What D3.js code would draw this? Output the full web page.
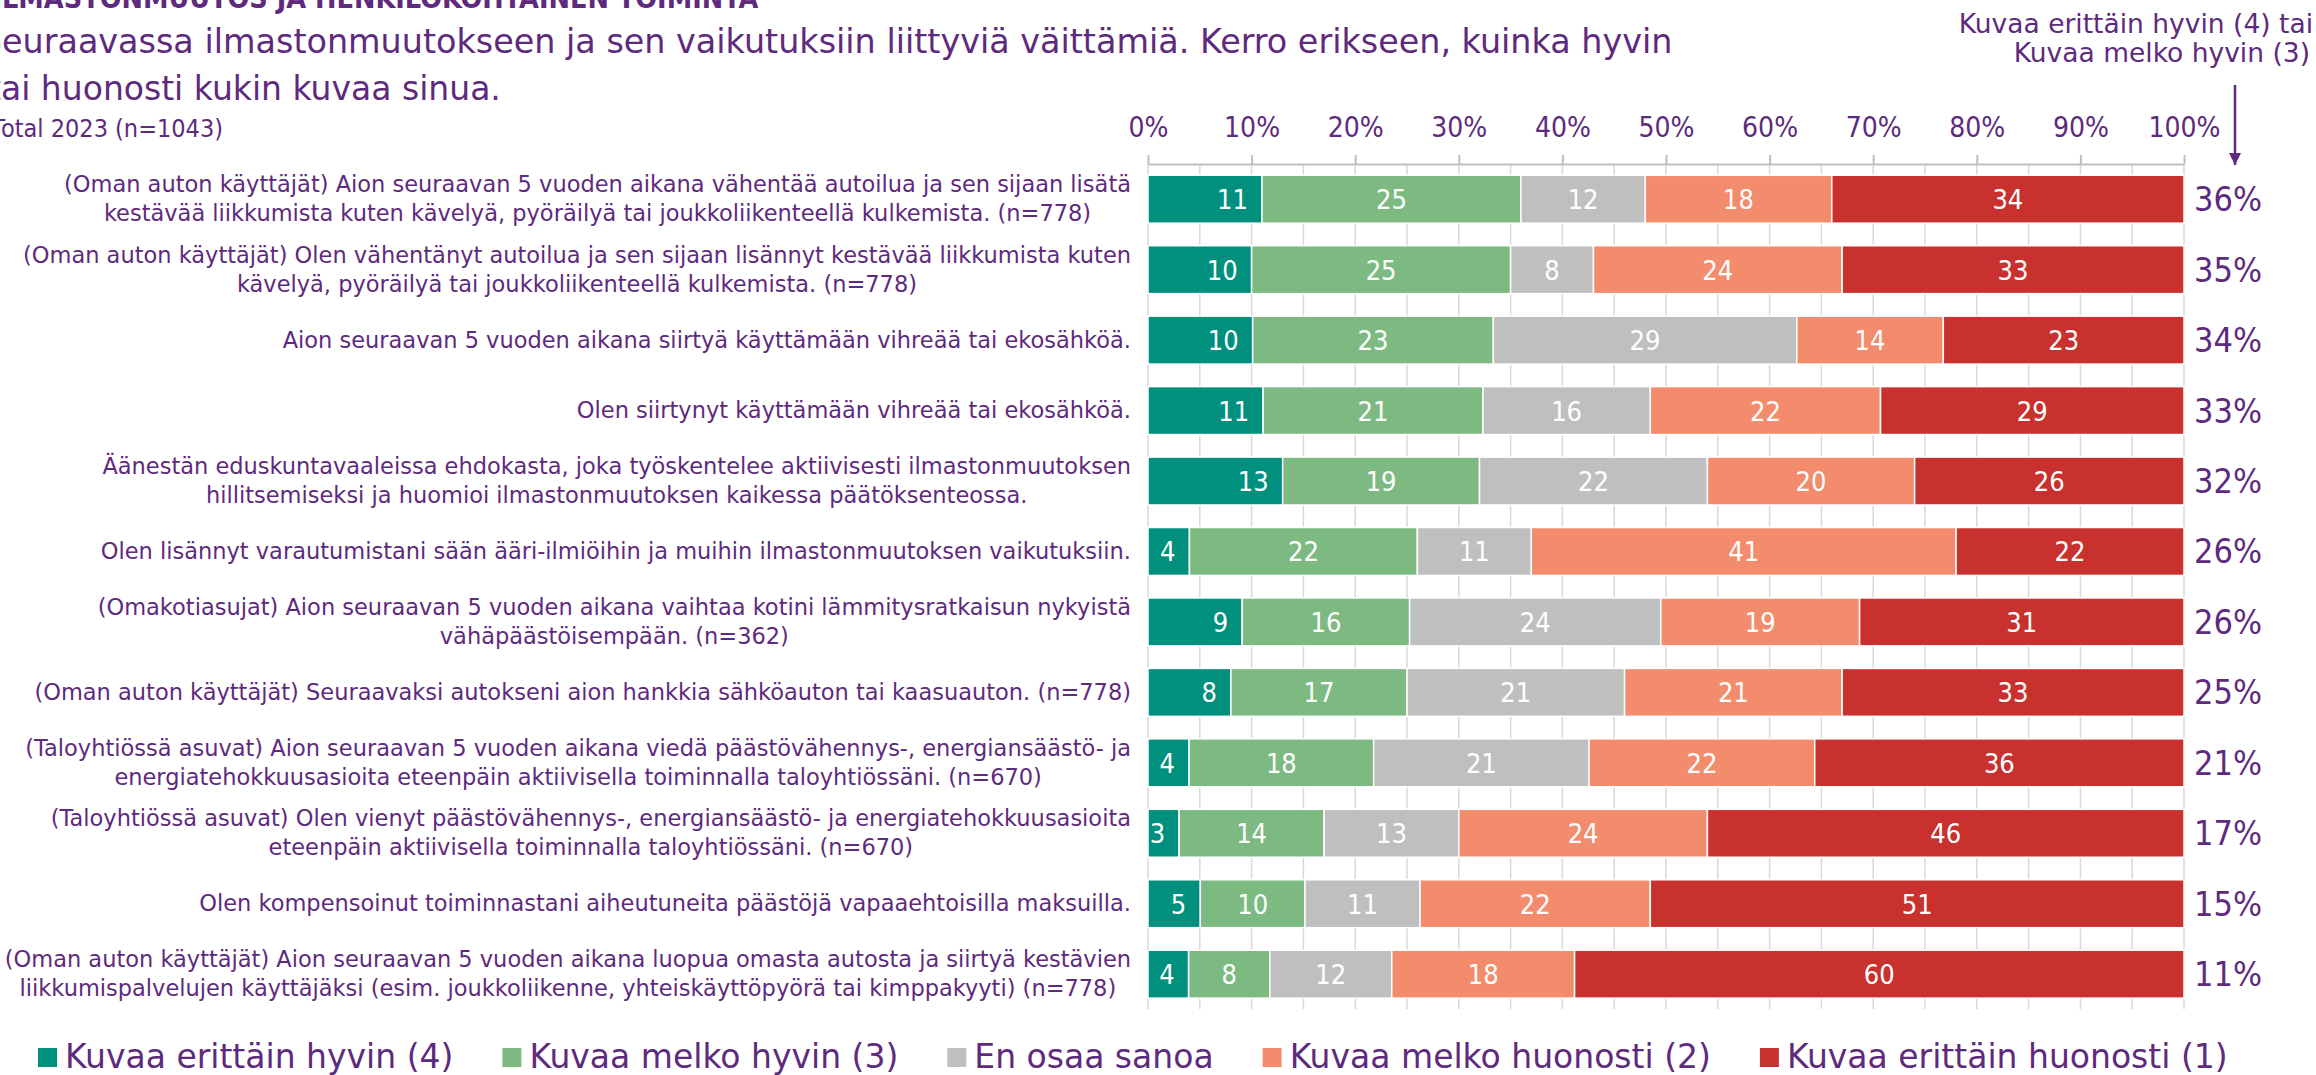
<!DOCTYPE html>
<meta charset="utf-8">
<head lang="fi">
    <title>Ilmastonmuutos ja henkilökohtainen toiminta</title>
    <script type="text/javascript" src="https://d3js.org/d3.v7.min.js"></script>
    <style type="text/css">
        body {
            margin: 0;
            background: #fff;
        }
        svg text {
            font-family: "DejaVu Sans", sans-serif;
            fill: #5e2a7e;
        }
        /* narrower faces for the numbers */
        .cond {
            font-family: "DejaVu Sans Condensed", "DejaVu Sans", sans-serif !important;
            font-stretch: condensed;
        }
        .narrow {
            font-family: "Liberation Sans Narrow", "DejaVu Sans Condensed", sans-serif !important;
            font-stretch: condensed;
        }
        .grid line {
            stroke: #d9d9d9;
            stroke-width: 1.5;
        }
        .axis path, .axis line {
            stroke: #bfbfbf;
            stroke-width: 2;
        }
        .seg {
            stroke: #fff;
            stroke-width: 1.5;
        }
        .val {
            fill: #fff !important;
            font-size: 27px;
        }
    </style>
</head>

<body>
<script type="text/javascript">

    var width = 2316;
    var height = 1075;

    // category labels, one entry per line as in the picture
    var categories = [
        ["(Oman auton käyttäjät) Aion seuraavan 5 vuoden aikana vähentää autoilua ja sen sijaan lisätä",
         "kestävää liikkumista kuten kävelyä, pyöräilyä tai joukkoliikenteellä kulkemista. (n=778)"],
        ["(Oman auton käyttäjät) Olen vähentänyt autoilua ja sen sijaan lisännyt kestävää liikkumista kuten",
         "kävelyä, pyöräilyä tai joukkoliikenteellä kulkemista. (n=778)"],
        ["Aion seuraavan 5 vuoden aikana siirtyä käyttämään vihreää tai ekosähköä."],
        ["Olen siirtynyt käyttämään vihreää tai ekosähköä."],
        ["Äänestän eduskuntavaaleissa ehdokasta, joka työskentelee aktiivisesti ilmastonmuutoksen",
         "hillitsemiseksi ja huomioi ilmastonmuutoksen kaikessa päätöksenteossa."],
        ["Olen lisännyt varautumistani sään ääri-ilmiöihin ja muihin ilmastonmuutoksen vaikutuksiin."],
        ["(Omakotiasujat) Aion seuraavan 5 vuoden aikana vaihtaa kotini lämmitysratkaisun nykyistä",
         "vähäpäästöisempään. (n=362)"],
        ["(Oman auton käyttäjät) Seuraavaksi autokseni aion hankkia sähköauton tai kaasuauton. (n=778)"],
        ["(Taloyhtiössä asuvat) Aion seuraavan 5 vuoden aikana viedä päästövähennys-, energiansäästö- ja",
         "energiatehokkuusasioita eteenpäin aktiivisella toiminnalla taloyhtiössäni. (n=670)"],
        ["(Taloyhtiössä asuvat) Olen vienyt päästövähennys-, energiansäästö- ja energiatehokkuusasioita",
         "eteenpäin aktiivisella toiminnalla taloyhtiössäni. (n=670)"],
        ["Olen kompensoinut toiminnastani aiheutuneita päästöjä vapaaehtoisilla maksuilla."],
        ["(Oman auton käyttäjät) Aion seuraavan 5 vuoden aikana luopua omasta autosta ja siirtyä kestävien",
         "liikkumispalvelujen käyttäjäksi (esim. joukkoliikenne, yhteiskäyttöpyörä tai kimppakyyti) (n=778)"]
    ];

    var series = ["Kuvaa erittäin hyvin (4)", "Kuvaa melko hyvin (3)", "En osaa sanoa",
                  "Kuvaa melko huonosti (2)", "Kuvaa erittäin huonosti (1)"];
    var seriesColors = ["#00907d", "#7dba82", "#bfbfbf", "#f28c6c", "#c8312d"];

    // values (%) per series
    var erittainHyvin    = [11, 10, 10, 11, 13, 4, 9, 8, 4, 3, 5, 4];
    var melkoHyvin       = [25, 25, 23, 21, 19, 22, 16, 17, 18, 14, 10, 8];
    var enOsaaSanoa      = [12, 8, 29, 16, 22, 11, 24, 21, 21, 13, 11, 12];
    var melkoHuonosti    = [18, 24, 14, 22, 20, 41, 19, 21, 22, 24, 22, 18];
    var erittainHuonosti = [34, 33, 23, 29, 26, 22, 31, 33, 36, 46, 51, 60];
    // "Kuvaa erittäin hyvin (4) tai Kuvaa melko hyvin (3)"
    var hyvinYhteensa    = [36, 35, 34, 33, 32, 26, 26, 25, 21, 17, 15, 11];

    var tickValues = [0, 10, 20, 30, 40, 50, 60, 70, 80, 90, 100];
    var gridValues = d3.range(0, 101, 5);

    var cols = [erittainHyvin, melkoHyvin, enOsaaSanoa, melkoHuonosti, erittainHuonosti];
    var table = categories.map(function (c, i) {
        var row = {idx: i};
        series.forEach(function (s, j) { row[s] = cols[j][i]; });
        return row;
    });

    var stacked = d3.stack()
        .keys(series)
        .offset(d3.stackOffsetExpand)(table);

    var svg = d3.select("body")
        .append("svg")
        .attr("width", width)
        .attr("height", height);

    var xScale = d3.scaleLinear()
        .domain([0, 100])
        .range([1148, 2184]);

    var yScale = d3.scaleBand()
        .domain(d3.range(categories.length))
        .range([164, 1009.4])
        .paddingInner(0.32)
        .paddingOuter(0.16);

    var bw = yScale.bandwidth();

    //gridlines every 5%
    svg.append("g")
        .attr("class", "grid")
        .selectAll("line")
        .data(gridValues)
        .enter()
        .append("line")
        .attr("x1", function (d) { return xScale(d); })
        .attr("x2", function (d) { return xScale(d); })
        .attr("y1", 164)
        .attr("y2", 1009);

    //top axis
    var axis = d3.axisTop(xScale)
        .tickValues(tickValues)
        .tickFormat(function (d) { return d + "%"; })
        .tickSize(9)
        .tickSizeOuter(0)
        .tickPadding(18);
    var gx = svg.append("g")
        .attr("class", "axis")
        .attr("transform", "translate(0,164)")
        .call(axis);
    gx.selectAll("text")
        .attr("class", "narrow")
        .style("font-size", "28px")
        .style("fill", "#5e2a7e");

    //bars
    var layers = svg.selectAll(".layer")
        .data(stacked)
        .enter()
        .append("g")
        .attr("class", "layer")
        .style("fill", function (d, i) { return seriesColors[i]; });

    layers.selectAll("rect")
        .data(function (d) { return d; })
        .enter()
        .append("rect")
        .attr("class", "seg")
        .attr("x", function (d) { return xScale(d[0] * 100); })
        .attr("y", function (d) { return yScale(d.data.idx); })
        .attr("width", function (d) { return xScale(d[1] * 100) - xScale(d[0] * 100); })
        .attr("height", bw);

    //value labels (first series sits at the inner end of its segment)
    layers.each(function (layer, li) {
        d3.select(this).selectAll("text")
            .data(layer)
            .enter()
            .append("text")
            .attr("class", "val cond")
            .attr("x", function (d) {
                if (li === 0) {
                    return xScale(d[1] * 100) - 14;
                }
                return (xScale(d[0] * 100) + xScale(d[1] * 100)) / 2;
            })
            .attr("y", function (d) { return yScale(d.data.idx) + bw / 2 + 10; })
            .attr("text-anchor", li === 0 ? "end" : "middle")
            .text(function (d) { return d.data[layer.key]; });
    });

    //category labels: centered lines, widest line flush right
    var labelRight = 1131;
    categories.forEach(function (lines, i) {
        var cy = yScale(i) + bw / 2;
        var g = svg.append("g");
        var texts = lines.map(function (line, k) {
            return g.append("text")
                .attr("y", cy + 7.5 + (k - (lines.length - 1) / 2) * 29)
                .attr("text-anchor", "middle")
                .style("font-size", "22.5px")
                .text(line);
        });
        var maxW = d3.max(texts, function (t) { return t.node().getComputedTextLength(); });
        texts.forEach(function (t) { t.attr("x", labelRight - maxW / 2); });
    });

    //right-hand totals
    svg.selectAll(".tot")
        .data(hyvinYhteensa)
        .enter()
        .append("text")
        .attr("class", "tot narrow")
        .attr("x", 2228)
        .attr("y", function (d, i) { return yScale(i) + bw / 2 + 12; })
        .attr("text-anchor", "middle")
        .style("font-size", "34px")
        .text(function (d) { return d + "%"; });

    //header over totals + arrow
    svg.append("text")
        .attr("x", 2313).attr("y", 33)
        .attr("text-anchor", "end")
        .style("font-size", "26.5px")
        .text("Kuvaa erittäin hyvin (4) tai");
    svg.append("text")
        .attr("x", 2310).attr("y", 62)
        .attr("text-anchor", "end")
        .style("font-size", "26.5px")
        .text("Kuvaa melko hyvin (3)");
    svg.append("defs").append("marker")
        .attr("id", "arrow")
        .attr("viewBox", "0 0 10 10")
        .attr("refX", 10).attr("refY", 5)
        .attr("markerWidth", 5).attr("markerHeight", 5)
        .attr("markerUnits", "strokeWidth")
        .attr("orient", "auto")
        .append("path")
        .attr("d", "M0,0 L10,5 L0,10 z")
        .style("fill", "#5e2a7e");
    svg.append("line")
        .attr("x1", 2235).attr("x2", 2235)
        .attr("y1", 85).attr("y2", 165)
        .style("stroke", "#5e2a7e")
        .style("stroke-width", 2.5)
        .attr("marker-end", "url(#arrow)");

    //titles (the picture is cropped on the left and top edges)
    function leftCut(txt, y, size, weight, visibleX, cls) {
        var t = svg.append("text")
            .attr("y", y)
            .style("font-size", size + "px")
            .style("font-weight", weight)
            .text(txt);
        if (cls) t.attr("class", cls);
        var w = t.node().getSubStringLength(0, 1);
        t.attr("x", visibleX - w);
        return t;
    }
    leftCut("ILMASTONMUUTOS JA HENKILÖKOHTAINEN TOIMINTA", 8, 28.5, "bold", 2, "cond");
    leftCut("Seuraavassa ilmastonmuutokseen ja sen vaikutuksiin liittyviä väittämiä. Kerro erikseen, kuinka hyvin", 53, 33.4, "normal", 2);
    leftCut("tai huonosti kukin kuvaa sinua.", 100, 33, "normal", 1);
    leftCut("Total 2023 (n=1043)", 137, 25, "normal", 1, "cond");

    //legend
    var lx = 38;
    series.forEach(function (s, i) {
        svg.append("rect")
            .attr("x", lx).attr("y", 1048)
            .attr("width", 19).attr("height", 19)
            .style("fill", seriesColors[i]);
        var t = svg.append("text")
            .attr("x", lx + 27).attr("y", 1068)
            .style("font-size", "33px")
            .text(s);
        lx += 27 + t.node().getComputedTextLength() + 49;
    });

</script>
</body>
